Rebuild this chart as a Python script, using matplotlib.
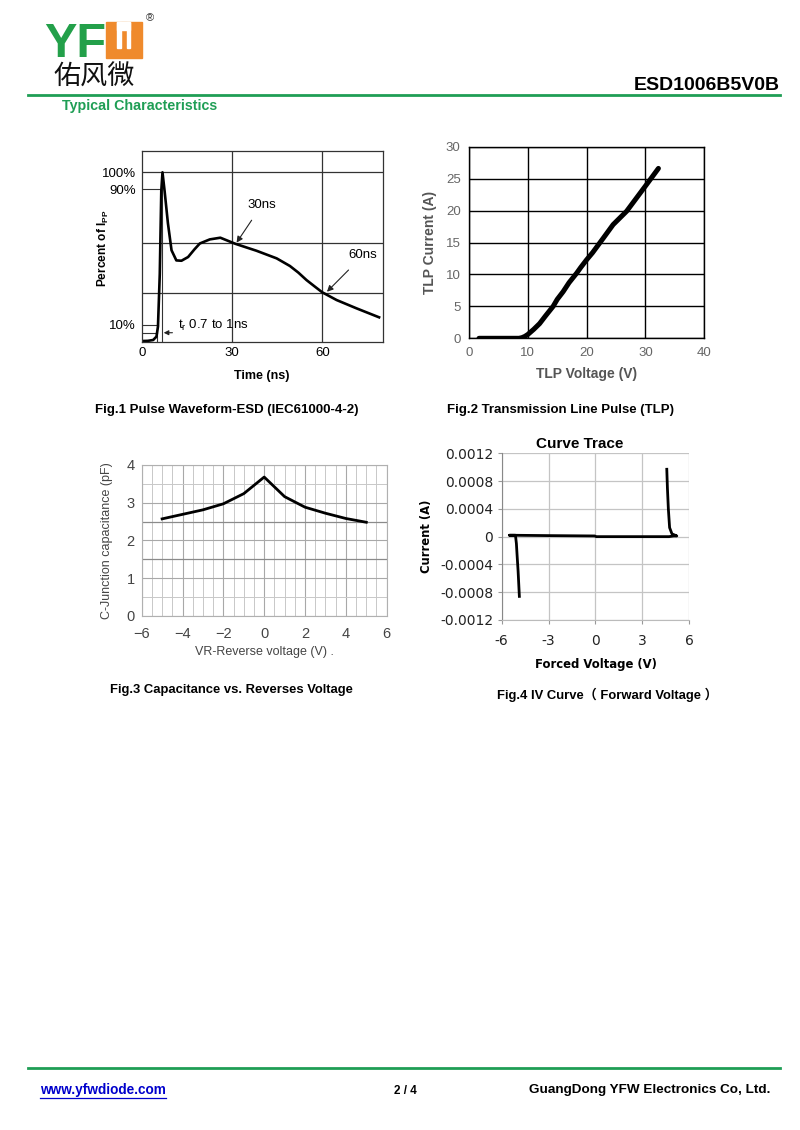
import numpy as np
import matplotlib
matplotlib.use("Agg")
import matplotlib.pyplot as plt
from matplotlib.patches import Rectangle
from matplotlib.lines import Line2D

# Fig.1 pulse waveform (ns, % of Ipp)
t_pulse = [0, 2, 3.8, 4.9, 5.4, 6.0, 6.5, 6.9, 7.6, 8.7, 9.9, 11.5, 13.2, 15.4, 17.5, 19.3,
           22.6, 26.1, 31.1, 34.5, 38.1, 44.8, 49.2, 52, 54.7, 57.5, 59.9, 64.7, 71.3, 78.8]
i_pulse = [0.4, 0.5, 1, 3, 8.9, 40, 89, 100, 89, 70, 54, 48, 47.8, 50, 54.5, 58,
           60.4, 61.4, 57.8, 55.8, 53.7, 49.2, 44.7, 40.8, 36.4, 32.5, 29.2, 24.6, 19.7, 14.4]
pulse_grid = [29, 58, 100]
pulse_yticks = [10, 90, 100]
pulse_ylabels = ["10%", "90%", "100%"]
pulse_xticks = [0, 30, 60]

# Fig.2 TLP
v_tlp = [1.7, 4, 6, 8.5, 9.0, 9.5, 10, 11, 12, 13, 14.3, 15, 16, 17, 18.3, 19, 20, 21,
         22.8, 24.5, 26.8, 28.5, 30.2, 32.2]
i_tlp = [0, 0, 0, 0, 0.1, 0.3, 0.6, 1.4, 2.3, 3.5, 5.0, 6.1, 7.3, 8.7, 10.2, 11.1, 12.3, 13.4,
         15.65, 17.8, 19.9, 22.0, 24.1, 26.6]

# Fig.3 capacitance
v_cap = [-5, -4, -3, -2, -1, 0, 1, 2, 3, 4, 5]
c_cap = [2.57, 2.69, 2.81, 2.97, 3.24, 3.68, 3.16, 2.88, 2.72, 2.58, 2.48]

# Fig.4 IV curve trace
v_iv = [-4.87, -4.95, -5.02, -5.06, -5.12, -5.3, -5.5, -5.3, -3, -0.05, 0.05, 3, 4.7,
        5.0, 5.2, 4.89, 4.74, 4.66, 4.6, 4.56]
i_iv = [-0.00086, -0.0005, -0.00025, -0.0001, 0.00002, 0.00002, 0.00002, 0.00002, 0.000015,
        0.00001, 0, 0, 0, 0.00001, 0.00001, 0.00004, 0.00013, 0.0004, 0.0007, 0.00097]
iv_yticks = [-0.0012, -0.0008, -0.0004, 0, 0.0004, 0.0008, 0.0012]
iv_ylabels = ["-0.0012", "-0.0008", "-0.0004", "0", "0.0004", "0.0008", "0.0012"]
iv_xticks = [-6, -3, 0, 3, 6]

W, H = 800, 1130
GREEN = "#1f9e55"
plt.rcParams['font.family'] = ['Liberation Sans', 'DejaVu Sans']

fig = plt.figure(figsize=(8, 11.3), dpi=100)


def fx(px):
    return px / W


def fy(py):
    return 1 - py / H


def axes_px(x0, x1, y0, y1):
    return fig.add_axes([fx(x0), fy(y1), (x1 - x0) / W, (y1 - y0) / H])


# ---------- header ----------
fig.text(fx(44), fy(57), "YF", color="#23a04a", fontsize=35, fontweight="bold",
         ha="left", va="baseline")
fig.patches.append(Rectangle((fx(106), fy(58.3)), 35.7 / W, 36.6 / H, color="#ef8a2c",
                             transform=fig.transFigure, figure=fig))
for gx in (117.3, 126.7):
    fig.patches.append(Rectangle((fx(gx), fy(47.7)), 3.2 / W, 26 / H, color="white",
                                 transform=fig.transFigure, figure=fig))
fig.patches.append(Rectangle((fx(117.3), fy(30)), 12.6 / W, 8.3 / H, color="white",
                             transform=fig.transFigure, figure=fig))
fig.text(fx(146), fy(18), "®", fontsize=8, ha="left", va="center", color="#333333")
fig.text(fx(53), fy(77), "佑风微", fontsize=19.5, ha="left", va="center",
         family=['Noto Sans CJK SC'], fontweight="medium", color="#111111")
fig.add_artist(Line2D([fx(28), fx(780)], [fy(95), fy(95)], color=GREEN, lw=2,
                      transform=fig.transFigure))
fig.text(fx(62), fy(106), "Typical Characteristics", color=GREEN, fontsize=10.3,
         fontweight="bold", ha="left", va="center")
fig.text(fx(780), fy(90), "ESD1006B5V0B", fontsize=14, fontweight="bold",
         ha="right", va="baseline")

# ---------- Fig.1 ----------
ax1 = axes_px(141.7, 382.7, 151, 341.7)
ax1.set_xlim(0, 80)
ax1.set_ylim(0, 112.6)
for g in pulse_grid:
    ax1.axhline(g, color="#333333", lw=0.9)
for g in pulse_xticks[1:]:
    ax1.axvline(g, color="#333333", lw=0.9)
ax1.plot([0, 6.6], [90, 90], color="#333333", lw=0.8)
ax1.plot([0, 5.4], [10, 10], color="#333333", lw=0.8)
ax1.plot([0, 5.2], [5.3, 5.3], color="#333333", lw=0.8)
ax1.plot([5.2, 5.2], [0, 10], color="#333333", lw=0.8)
ax1.plot([6.9, 6.9], [0, 100], color="#333333", lw=0.8)
ax1.plot(t_pulse, i_pulse, color="black", lw=1.9)
ax1.set_xticks(pulse_xticks)
ax1.set_xticklabels([str(v) for v in pulse_xticks], fontsize=9.5)
ax1.set_yticks(pulse_yticks)
ax1.set_yticklabels(pulse_ylabels, fontsize=9.5)
ax1.tick_params(length=0, pad=4)
for s in ax1.spines.values():
    s.set_color("#333333")
    s.set_linewidth(0.9)
ax1.set_xlabel("Time (ns)", fontsize=9, fontweight="bold", labelpad=8)
ax1.set_ylabel("Percent of I$_{\\mathregular{PP}}$", fontsize=8.6, fontweight="bold")
ax1.yaxis.set_label_coords(-0.128, 0.49)
ax1.annotate("30ns", xy=(31.5, 58.5), xytext=(40, 81), fontsize=9.5, ha="center",
             va="center", arrowprops=dict(arrowstyle="-|>", color="#222222", lw=0.8,
                                          shrinkA=6, shrinkB=0, mutation_scale=9))
ax1.annotate("60ns", xy=(61.5, 29.5), xytext=(73.5, 51), fontsize=9.5, ha="center",
             va="center", arrowprops=dict(arrowstyle="-|>", color="#222222", lw=0.8,
                                          shrinkA=6, shrinkB=0, mutation_scale=9))
ax1.annotate("", xy=(7.3, 5.3), xytext=(10.2, 5.3),
             arrowprops=dict(arrowstyle="-|>", color="#222222", lw=0.8, mutation_scale=7,
                             shrinkA=0, shrinkB=0))
ax1.text(12, 9.8, "t$_{\\mathregular{r}}$ 0.7 to 1ns", fontsize=9.5, ha="left", va="center")

# ---------- Fig.2 ----------
ax2 = axes_px(469, 704.3, 146.7, 338.3)
ax2.set_xlim(0, 40)
ax2.set_ylim(0, 30)
ax2.set_xticks([0, 10, 20, 30, 40])
ax2.set_yticks([0, 5, 10, 15, 20, 25, 30])
ax2.grid(True, color="black", lw=1)
ax2.set_axisbelow(True)
ax2.plot(v_tlp, i_tlp, color="black", lw=3.6, solid_capstyle="round", solid_joinstyle="round")
ax2.tick_params(length=0, pad=6, labelsize=9.5, labelcolor="#666666")
for s in ax2.spines.values():
    s.set_color("black")
    s.set_linewidth(1)
ax2.set_xlabel("TLP Voltage (V)", fontsize=10, fontweight="bold", color="#555555", labelpad=6)
ax2.set_ylabel("TLP Current (A)", fontsize=10, fontweight="bold", color="#555555", labelpad=6)

# ---------- Fig.3 ----------
ax3 = axes_px(141.7, 386.7, 465, 615.7)
ax3.set_xlim(-6, 6)
ax3.set_ylim(0, 4)
ax3.set_xticks(np.arange(-6, 7, 2))
ax3.set_xticks(np.arange(-6, 6.1, 0.5), minor=True)
ax3.set_yticks(np.arange(0, 5, 1))
ax3.set_yticks(np.arange(0, 4.1, 0.5), minor=True)
ax3.grid(True, which="minor", color="#c8c8c8", lw=0.7)
ax3.grid(True, which="major", color="#a8a8a8", lw=0.8)
for yv in (1.5, 2.5):
    ax3.axhline(yv, color="#8a8a8a", lw=0.9)
ax3.set_axisbelow(True)
ax3.plot(v_cap, c_cap, color="black", lw=2)
ax3.set_xticklabels(["\u22126", "\u22124", "\u22122", "0", "2", "4", "6"])
ax3.tick_params(which="both", length=0, pad=5, labelsize=10.5, labelcolor="#444444")
ax3.tick_params(axis="x", pad=8)
for s in ax3.spines.values():
    s.set_color("#b0b0b0")
    s.set_linewidth(0.8)
ax3.set_xlabel("VR-Reverse voltage (V) .", fontsize=9, color="#444444", labelpad=4)
ax3.set_ylabel("C-Junction capacitance (pF)", fontsize=9, color="#444444", labelpad=10)

# ---------- Fig.4 ----------
ax4 = axes_px(501.7, 689.3, 453.3, 620)
ax4.set_xlim(-6, 6)
ax4.set_ylim(-0.0012, 0.0012)
ax4.set_xticks(iv_xticks)
ax4.set_yticks(iv_yticks)
ax4.set_yticklabels(iv_ylabels, family=['DejaVu Sans'])
ax4.set_xticklabels([str(v) for v in iv_xticks], family=['DejaVu Sans'])
ax4.grid(True, color="#c4c4c4", lw=0.9)
ax4.set_axisbelow(True)
ax4.plot(v_iv, i_iv, color="black", lw=2)
ax4.tick_params(length=3, color="#999999", pad=3, labelsize=10, labelcolor="#222222")
ax4.tick_params(axis="x", pad=7)
ax4.spines["top"].set_visible(False)
ax4.spines["right"].set_visible(False)
ax4.spines["left"].set_color("#888888")
ax4.spines["bottom"].set_color("#bbbbbb")
ax4.set_title("Curve Trace", fontsize=11, fontweight="bold", pad=4)
ax4.title.set_x(0.417)
ax4.set_xlabel("Forced Voltage (V)", fontsize=8.4, fontweight="bold", family=['DejaVu Sans'],
               labelpad=7)
ax4.set_ylabel("Current (A)", fontsize=8.4, fontweight="bold", family=['DejaVu Sans'],
               labelpad=5)

# ---------- captions ----------
fig.text(fx(95), fy(410), "Fig.1 Pulse Waveform-ESD (IEC61000-4-2)", fontsize=9.5,
         fontweight="bold", ha="left", va="center")
fig.text(fx(447), fy(410), "Fig.2 Transmission Line Pulse (TLP)", fontsize=9.5,
         fontweight="bold", ha="left", va="center")
fig.text(fx(110), fy(690), "Fig.3 Capacitance vs. Reverses Voltage", fontsize=9.4,
         fontweight="bold", ha="left", va="center")
fig.text(fx(497), fy(695), "Fig.4 IV Curve（ Forward Voltage ）", fontsize=9.4,
         fontweight="bold", ha="left", va="center",
         family=['Liberation Sans', 'Noto Sans CJK SC'])

# ---------- footer ----------
fig.add_artist(Line2D([fx(28), fx(780)], [fy(1068), fy(1068)], color=GREEN, lw=2,
                      transform=fig.transFigure))
url = fig.text(fx(40), fy(1090), "www.yfwdiode.com", color="#0000cc", fontsize=9.8,
               fontweight="bold", ha="left", va="center")
fig.text(fx(405), fy(1091), "2 / 4", fontsize=8.5, fontweight="bold", ha="center", va="center")
fig.text(fx(770), fy(1090), "GuangDong YFW Electronics Co, Ltd.", fontsize=9.7,
         fontweight="bold", ha="right", va="center")

renderer = fig.canvas.get_renderer()
bb = url.get_window_extent(renderer).transformed(fig.transFigure.inverted())
fig.add_artist(Line2D([bb.x0, bb.x1], [bb.y0 - 0.0005, bb.y0 - 0.0005], color="#0000cc",
                      lw=0.9, transform=fig.transFigure))

fig.savefig("out.png", dpi=100, facecolor="white")
plt.close(fig)
